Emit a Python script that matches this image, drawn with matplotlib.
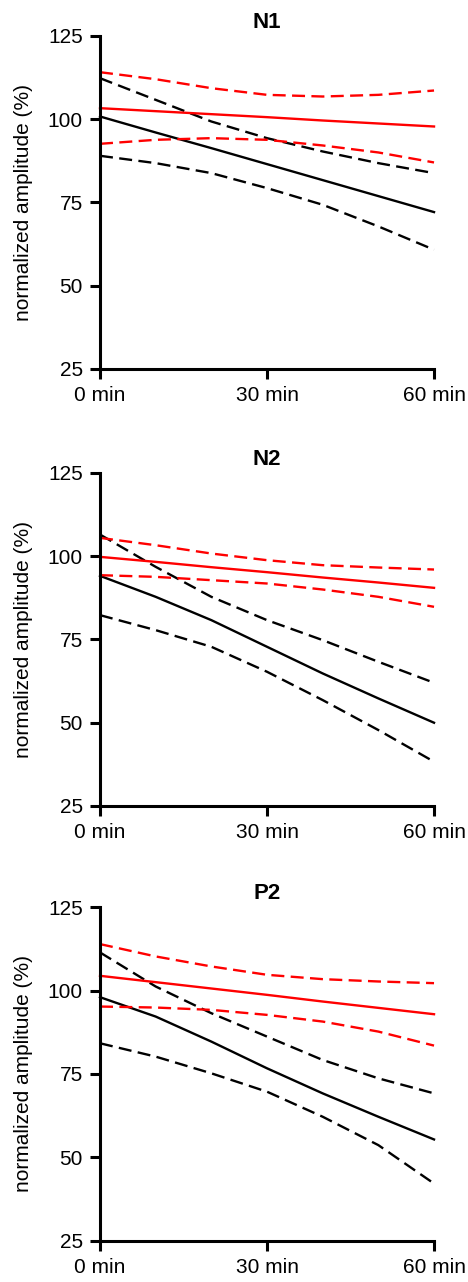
import matplotlib.pyplot as plt

plt.rcParams.update({"font.family": ["Liberation Sans", "DejaVu Sans"], "font.size": 15})

# data: minutes and amplitudes (%)
minutes = [0, 10, 20, 30, 40, 50, 60]
panels = ["N1", "N2", "P2"]

# black group: fit, upper CI, lower CI
black_fit = {
    "N1": [100.8, 96.0, 91.3, 86.5, 81.7, 76.9, 72.1],
    "N2": [94.1, 87.8, 80.8, 72.8, 64.8, 57.3, 50.0],
    "P2": [98.0, 92.2, 84.7, 76.7, 69.2, 62.2, 55.4],
}
black_hi = {
    "N1": [112.3, 105.8, 99.3, 94.3, 90.3, 86.8, 83.8],
    "N2": [106.5, 96.8, 87.8, 80.8, 74.8, 68.3, 62.0],
    "P2": [111.4, 101.2, 93.2, 86.2, 79.2, 73.7, 69.2],
}
black_lo = {
    "N1": [89.0, 86.8, 83.8, 79.3, 74.3, 67.8, 60.8],
    "N2": [82.3, 77.8, 72.8, 65.3, 56.8, 47.8, 38.3],
    "P2": [84.2, 80.2, 75.2, 69.7, 62.2, 53.7, 42.2],
}

# red group: fit, upper CI, lower CI
red_fit = {
    "N1": [103.3, 102.4, 101.5, 100.6, 99.6, 98.7, 97.8],
    "N2": [99.8, 98.3, 96.7, 95.2, 93.6, 92.1, 90.5],
    "P2": [104.4, 102.5, 100.6, 98.7, 96.7, 94.8, 92.9],
}
red_hi = {
    "N1": [114.1, 112.0, 109.3, 107.3, 106.8, 107.3, 108.6],
    "N2": [105.5, 103.3, 100.8, 98.8, 97.3, 96.6, 96.0],
    "P2": [113.9, 110.2, 107.2, 104.7, 103.4, 102.7, 102.2],
}
red_lo = {
    "N1": [92.6, 93.8, 94.3, 93.8, 92.1, 90.0, 87.0],
    "N2": [94.3, 93.8, 92.8, 91.8, 90.0, 87.8, 84.8],
    "P2": [95.2, 94.9, 94.2, 92.7, 90.7, 87.7, 83.5],
}

xticks = [0, 30, 60]
xticklabels = ["0 min", "30 min", "60 min"]
yticks = [25, 50, 75, 100, 125]

fig = plt.figure(figsize=(4.68, 12.82), dpi=100)

# axes boxes in figure fractions
boxes = [
    [0.2137, 0.7122, 0.7137, 0.2598],
    [0.2137, 0.3713, 0.7137, 0.2598],
    [0.2137, 0.0320, 0.7137, 0.2605],
]

lw = 1.7
dash = (5.5, 2.7)

for name, box in zip(panels, boxes):
    ax = fig.add_axes(box)
    ax.plot(minutes, black_hi[name], color="black", lw=lw, dashes=dash)
    ax.plot(minutes, black_lo[name], color="black", lw=lw, dashes=dash)
    ax.plot(minutes, black_fit[name], color="black", lw=lw)
    ax.plot(minutes, red_hi[name], color="red", lw=lw, dashes=dash)
    ax.plot(minutes, red_lo[name], color="red", lw=lw, dashes=dash)
    ax.plot(minutes, red_fit[name], color="red", lw=lw)

    ax.set_xlim(0, 60)
    ax.set_ylim(25, 125)
    ax.set_xticks(xticks)
    ax.set_xticklabels(xticklabels)
    ax.set_yticks(yticks)
    ax.spines["top"].set_visible(False)
    ax.spines["right"].set_visible(False)
    ax.spines["left"].set_linewidth(2.2)
    ax.spines["bottom"].set_linewidth(2.2)
    ax.tick_params(width=2.2, length=7.5, pad=5, direction="out")
    for ln in ax.lines:
        ln.set_clip_on(False)

    ax.set_title(name, fontsize=16, fontweight="bold", pad=6)
    ax.set_ylabel("normalized amplitude (%)", fontsize=15)
    ax.yaxis.set_label_coords(-0.2, 0.5)

fig.savefig("out.png", dpi=100)
